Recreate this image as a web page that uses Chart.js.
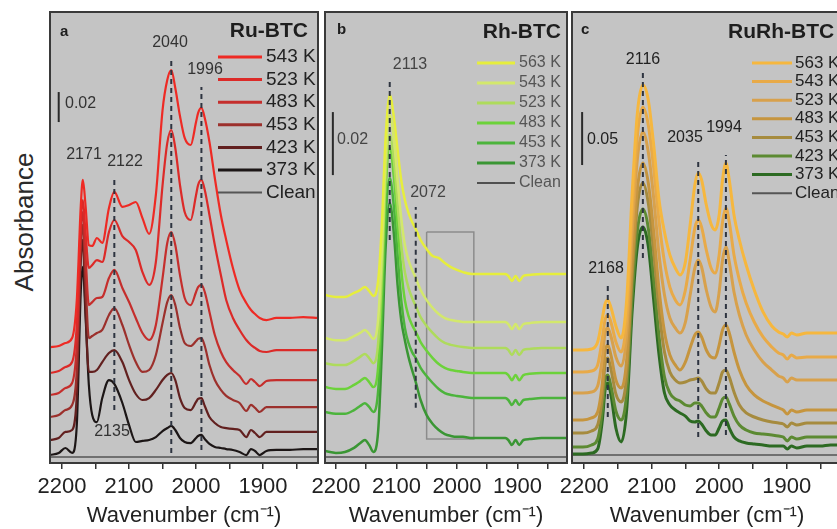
<!DOCTYPE html>
<html><head><meta charset="utf-8">
<script src="https://cdn.jsdelivr.net/npm/chart.js@4.4.1/dist/chart.umd.min.js"></script>
<style>
html,body{margin:0;padding:0;background:#fff;overflow:hidden;width:837px;height:529px;}
canvas{position:absolute;left:0;top:0;}
#ylab{position:absolute;left:24px;top:222px;transform:translate(-50%,-50%) rotate(-90deg);font:26px "Liberation Sans",Arial,sans-serif;color:#2a2a2a;white-space:nowrap;}
</style></head><body>
<div id="ylab">Absorbance</div>
<canvas id="ca" width="330" height="529"></canvas>
<canvas id="cb" width="580" height="529"></canvas>
<canvas id="cc" width="860" height="529"></canvas>
<script>
const FONT = '"Liberation Sans", Arial, sans-serif';
const tickValues = [2200, 2150, 2100, 2050, 2000, 1950, 1900, 1850];
const xMin = 1818, xMax = 2218;

// ---------- Panel a : Ru-BTC ----------
const wnA = [2218,2205,2195,2185,2178,2172,2169,2165,2160,2155,2148,2140,2130,2122,2110,2100,2090,2080,2070,2060,2050,2043,2037,2031,2024,2017,2008,2000,1997,1992,1987,1980,1972,1963,1955,1945,1935,1925,1918,1912,1905,1895,1880,1860,1840,1818];
const labelsA = ['543 K','523 K','483 K','453 K','423 K','373 K','Clean'];
const ru543 = [.0773,.0780,.0800,.0833,.1087,.1720,.1887,.1720,.1453,.1447,.1500,.1467,.1700,.1807,.1707,.1720,.1740,.1633,.1527,.1787,.2353,.2553,.2620,.2500,.2313,.2167,.2120,.2273,.2333,.2367,.2300,.2140,.1900,.1653,.1487,.1300,.1153,.1067,.1020,.0993,.0967,.0953,.0967,.0967,.0973,.0967];
const ru523 = [.0600,.0613,.0640,.0673,.0920,.1607,.1753,.1540,.1300,.1320,.1353,.1340,.1540,.1620,.1513,.1473,.1420,.1273,.1187,.1340,.1853,.2133,.2220,.2100,.1853,.1673,.1620,.1787,.1853,.1887,.1820,.1653,.1453,.1253,.1087,.0967,.0887,.0820,.0787,.0767,.0747,.0740,.0753,.0753,.0753,.0753];
const ru483 = [.0453,.0467,.0500,.0533,.0787,.1540,.1673,.1387,.1053,.1073,.1100,.1107,.1233,.1287,.1167,.1073,.0967,.0867,.0820,.0920,.1233,.1467,.1540,.1453,.1253,.1100,.1053,.1140,.1173,.1187,.1140,.1007,.0853,.0740,.0673,.0620,.0580,.0527,.0560,.0540,.0513,.0547,.0553,.0553,.0553,.0553];
const ru453 = [.0307,.0320,.0353,.0387,.0620,.1453,.1587,.1220,.0833,.0847,.0867,.0887,.0987,.1033,.0920,.0787,.0673,.0607,.0620,.0720,.0933,.1073,.1120,.1053,.0900,.0800,.0780,.0813,.0827,.0833,.0780,.0653,.0553,.0487,.0447,.0420,.0400,.0347,.0387,.0367,.0340,.0373,.0373,.0373,.0373,.0373];
const ru423 = [.0153,.0167,.0207,.0220,.0453,.1340,.1487,.1020,.0607,.0607,.0620,.0673,.0733,.0753,.0673,.0553,.0460,.0420,.0433,.0487,.0553,.0587,.0600,.0553,.0433,.0367,.0353,.0407,.0427,.0433,.0380,.0307,.0267,.0240,.0233,.0227,.0220,.0173,.0220,.0200,.0173,.0207,.0207,.0207,.0207,.0207];
const ru373 = [.0053,.0067,.0100,.0067,.0253,.1153,.1307,.0987,.0520,.0320,.0273,.0433,.0553,.0527,.0400,.0253,.0140,.0147,.0153,.0173,.0213,.0233,.0247,.0220,.0167,.0140,.0133,.0167,.0180,.0187,.0160,.0127,.0107,.0100,.0093,.0087,.0073,.0053,.0093,.0080,.0053,.0080,.0087,.0087,.0093,.0093];
const ruClean = [.0040,.0040,.0040,.0040,.0040,.0040,.0040,.0040,.0040,.0040,.0040,.0040,.0040,.0040,.0040,.0040,.0040,.0040,.0040,.0040,.0040,.0040,.0040,.0040,.0040,.0040,.0040,.0040,.0040,.0040,.0040,.0040,.0040,.0040,.0040,.0040,.0040,.0040,.0040,.0040,.0040,.0040,.0040,.0040,.0040,.0040];
const peaksA = [2122, 2037, 1992];
const peakSpanA = [[.0353,.1887],[.0067,.2687],[.0087,.2507]];
const scaleA = {wn: 2205, from: .2273, size: 0.02};

// ---------- Panel b : Rh-BTC ----------
const wnB = [2218,2200,2185,2170,2160,2152,2145,2138,2130,2124,2118,2111,2104,2098,2092,2086,2080,2074,2068,2060,2050,2040,2030,2020,2010,2000,1990,1975,1960,1945,1930,1920,1915,1909,1903,1897,1890,1880,1860,1840,1818];
const labelsB = ['563 K','543 K','523 K','483 K','453 K','373 K','Clean'];
const rh563 = [.0533,.0527,.0527,.0540,.0549,.0559,.0546,.0530,.0581,.0756,.1025,.1168,.1095,.0994,.0898,.0835,.0794,.0765,.0743,.0708,.0679,.0657,.0651,.0635,.0622,.0613,.0606,.0600,.0600,.0600,.0600,.0600,.0594,.0578,.0594,.0578,.0594,.0597,.0600,.0600,.0600];
const rh543 = [.0397,.0390,.0390,.0403,.0413,.0422,.0410,.0394,.0460,.0676,.0962,.1105,.1025,.0898,.0778,.0692,.0644,.0613,.0587,.0549,.0517,.0492,.0473,.0460,.0454,.0451,.0448,.0448,.0448,.0448,.0448,.0448,.0441,.0425,.0441,.0425,.0441,.0444,.0448,.0448,.0448];
const rh523 = [.0317,.0311,.0311,.0324,.0337,.0346,.0333,.0317,.0384,.0606,.0905,.1041,.0956,.0819,.0692,.0606,.0556,.0524,.0498,.0463,.0435,.0413,.0394,.0381,.0375,.0371,.0368,.0365,.0365,.0365,.0365,.0365,.0359,.0343,.0359,.0343,.0359,.0362,.0365,.0365,.0365];
const rh483 = [.0241,.0235,.0235,.0248,.0260,.0270,.0257,.0241,.0308,.0543,.0857,.1000,.0905,.0756,.0613,.0517,.0467,.0438,.0416,.0384,.0356,.0333,.0314,.0302,.0295,.0292,.0289,.0286,.0286,.0286,.0286,.0286,.0279,.0263,.0279,.0263,.0279,.0283,.0286,.0286,.0286];
const rh453 = [.0162,.0156,.0156,.0168,.0181,.0190,.0178,.0162,.0232,.0460,.0765,.0905,.0810,.0660,.0517,.0429,.0381,.0352,.0333,.0302,.0276,.0254,.0235,.0222,.0216,.0213,.0210,.0206,.0206,.0206,.0206,.0206,.0200,.0184,.0200,.0184,.0200,.0203,.0206,.0206,.0206];
const rh373 = [.0038,.0032,.0035,.0048,.0063,.0073,.0057,.0035,.0105,.0359,.0676,.0825,.0724,.0565,.0454,.0390,.0337,.0295,.0257,.0200,.0152,.0124,.0105,.0092,.0086,.0083,.0083,.0079,.0079,.0079,.0079,.0079,.0073,.0057,.0073,.0057,.0073,.0076,.0079,.0079,.0079];
const rhClean = [.0019,.0019,.0019,.0019,.0019,.0019,.0019,.0019,.0019,.0019,.0019,.0019,.0019,.0019,.0019,.0019,.0019,.0019,.0019,.0019,.0019,.0019,.0019,.0019,.0019,.0019,.0019,.0019,.0019,.0019,.0019,.0019,.0019,.0019,.0019,.0019,.0019,.0019,.0019,.0019,.0019];
const peaksB = [2111, 2068];
const peakSpanB = [[.0708,.1216],[.0175,.0813]];
const scaleB = {wn: 2205, from: .0914, size: 0.02};
const boxB = {wnFrom: 2050, wnTo: 1972, aLow: .0076, aHigh: .0733};

// ---------- Panel c : RuRh-BTC ----------
const wnC = [2218,2202,2189,2180,2173,2169,2165,2160,2153,2145,2137,2129,2121,2113,2105,2097,2089,2081,2073,2065,2058,2050,2043,2036,2031,2026,2019,2012,2006,2000,1995,1990,1985,1978,1970,1960,1948,1935,1922,1912,1905,1899,1893,1885,1870,1850,1835,1818];
const labelsC = ['563 K','543 K','523 K','483 K','453 K','423 K','373 K','Clean'];
const rr563 = [.1066,.1066,.1075,.1142,.1368,.1500,.1538,.1462,.1292,.1179,.1538,.2528,.3311,.3566,.3425,.3000,.2481,.2179,.1962,.1840,.1774,.1896,.2245,.2623,.2736,.2670,.2434,.2255,.2198,.2340,.2670,.2830,.2670,.2340,.2104,.1868,.1632,.1425,.1292,.1236,.1217,.1189,.1226,.1208,.1226,.1226,.1226,.1226];
const rr543 = [.0858,.0858,.0868,.0925,.1179,.1349,.1396,.1321,.1142,.1047,.1368,.2340,.3094,.3358,.3189,.2783,.2274,.1896,.1660,.1538,.1491,.1632,.1915,.2217,.2292,.2226,.2009,.1840,.1792,.1962,.2274,.2406,.2274,.1962,.1726,.1509,.1330,.1189,.1094,.1038,.1019,.0981,.1019,.0991,.1000,.1000,.1000,.1000];
const rr523 = [.0660,.0660,.0670,.0726,.0991,.1226,.1274,.1189,.1000,.0915,.1208,.2151,.2877,.3123,.2934,.2500,.1962,.1585,.1368,.1274,.1226,.1330,.1585,.1840,.1915,.1849,.1632,.1472,.1425,.1613,.1915,.2038,.1896,.1613,.1396,.1208,.1066,.0953,.0877,.0821,.0802,.0764,.0802,.0783,.0783,.0783,.0783,.0783];
const rr483 = [.0406,.0406,.0425,.0481,.0755,.1047,.1113,.1009,.0783,.0708,.0972,.1896,.2594,.2830,.2642,.2179,.1632,.1236,.1019,.0925,.0877,.0953,.1085,.1208,.1236,.1189,.1066,.1000,.0991,.1113,.1255,.1302,.1226,.1047,.0877,.0736,.0642,.0585,.0547,.0519,.0500,.0462,.0500,.0481,.0500,.0500,.0500,.0500];
const rr453 = [.0283,.0283,.0302,.0358,.0632,.0934,.0991,.0877,.0651,.0575,.0830,.1745,.2434,.2642,.2453,.1991,.1443,.1047,.0858,.0783,.0755,.0764,.0783,.0792,.0802,.0774,.0698,.0660,.0660,.0755,.0858,.0877,.0811,.0670,.0547,.0472,.0434,.0406,.0387,.0377,.0368,.0340,.0377,.0358,.0377,.0377,.0377,.0377];
const rr423 = [.0151,.0151,.0170,.0226,.0500,.0774,.0830,.0717,.0491,.0406,.0660,.1557,.2198,.2396,.2217,.1726,.1189,.0811,.0660,.0604,.0585,.0547,.0538,.0566,.0566,.0538,.0472,.0434,.0434,.0519,.0604,.0623,.0557,.0443,.0358,.0311,.0283,.0274,.0264,.0255,.0245,.0208,.0245,.0226,.0245,.0245,.0245,.0245];
const rr373 = [.0085,.0085,.0094,.0132,.0406,.0689,.0755,.0632,.0330,.0198,.0500,.1425,.2047,.2226,.2047,.1538,.1019,.0660,.0547,.0500,.0472,.0443,.0396,.0387,.0396,.0368,.0302,.0264,.0264,.0330,.0396,.0406,.0330,.0245,.0208,.0189,.0179,.0170,.0160,.0160,.0160,.0132,.0160,.0142,.0160,.0160,.0170,.0170];
const rrClean = [.0075,.0075,.0075,.0075,.0075,.0075,.0075,.0075,.0075,.0075,.0075,.0075,.0075,.0075,.0075,.0075,.0075,.0075,.0075,.0075,.0075,.0075,.0075,.0075,.0075,.0075,.0075,.0075,.0075,.0075,.0075,.0075,.0075,.0075,.0075,.0075,.0075,.0075,.0075,.0075,.0075,.0075,.0075,.0075,.0075,.0075,.0075,.0075];
const peaksC = [2165, 2113, 2031, 1990];
const peakSpanC = [[.0434,.1698],[.1934,.3679],[.0245,.2877],[.0264,.2906]];
const scaleC = {wn: 2203, from: .2811, size: 0.05};

// ---------- helpers ----------
function spectrum(xs, ys, label, color, w) {
  return {label, data: xs.map((x, i) => ({x, y: ys[i]})), borderColor: color, borderWidth: w,
    pointRadius: 0, cubicInterpolationMode: 'monotone', fill: false};
}
function segment(x0, y0, x1, y1, color, w, dash) {
  return {label: '', data: [{x: x0, y: y0}, {x: x1, y: y1}], borderColor: color, borderWidth: w,
    borderDash: dash || [], pointRadius: 0, tension: 0, fill: false, order: -1};
}
function dashes(peaks, spans) {
  return peaks.map((p, i) => segment(p, spans[i][0], p, spans[i][1], '#2e3440', 2, [5, 4]));
}
function scaleBar(s) { return segment(s.wn, s.from, s.wn, s.from + s.size, '#2a2a2a', 2); }

const decor = {
  id: 'decor',
  beforeDraw(chart, args, o) {
    const {ctx, chartArea: a} = chart;
    ctx.save(); ctx.fillStyle = '#c4c4c4';
    ctx.fillRect(a.left, a.top, a.right - a.left, a.bottom - a.top); ctx.restore();
  },
  afterDraw(chart, args, o) {
    const {ctx, chartArea: a} = chart;
    ctx.save();
    ctx.strokeStyle = '#3a3a3a'; ctx.lineWidth = 2;
    ctx.strokeRect(a.left, a.top, a.right - a.left, a.bottom - a.top);
    ctx.textBaseline = 'middle';
    ctx.fillStyle = '#1e1e1e'; ctx.textAlign = 'left';
    ctx.font = 'bold 15px ' + FONT; ctx.fillText(o.letter, o.letterX, o.letterY);
    ctx.font = 'bold 21px ' + FONT; ctx.textAlign = o.titleAlign; ctx.fillText(o.title, o.titleX, o.titleY);
    for (let i = 0; i < o.legendCount; i++) {
      const ds = chart.data.datasets[i]; const y = o.legY + i * o.legStep;
      ctx.strokeStyle = ds.borderColor; ctx.lineWidth = i === o.legendCount - 1 ? 2 : 3;
      ctx.beginPath(); ctx.moveTo(o.legX1, y); ctx.lineTo(o.legX2, y); ctx.stroke();
      ctx.fillStyle = o.legColor; ctx.font = o.legFont; ctx.textAlign = 'left';
      ctx.fillText(ds.label, o.legX2 + o.legGap, y);
    }
    ctx.font = o.noteFont; ctx.fillStyle = o.noteColor;
    o.notes.forEach(n => { ctx.textAlign = n.a || 'center'; ctx.fillText(n.t, n.x, n.y); });
    ctx.restore();
  }
};

function makeChart(id, left, right, yMax, datasets, decorOpts) {
  const el = document.getElementById(id);
  return new Chart(el, {
    type: 'line',
    data: {datasets},
    options: {
      responsive: false, animation: false, devicePixelRatio: 1,
      layout: {padding: {left: left, right: el.width - right, top: 12, bottom: 0}},
      plugins: {legend: {display: false}, tooltip: {enabled: false}, decor: decorOpts},
      scales: {
        x: {
          type: 'linear', reverse: true, min: xMin, max: xMax,
          afterBuildTicks: s => { s.ticks = tickValues.map(v => ({value: v})); },
          afterFit: s => { s.height = 66; },
          ticks: {autoSkip: false, maxRotation: 0, minRotation: 0, padding: 5, color: '#222',
            font: {size: 22, family: FONT}, callback: v => (v % 100 === 0 ? String(v) : '')},
          grid: {drawOnChartArea: false, drawTicks: true, tickLength: 6, color: '#333', lineWidth: 1.5},
          border: {display: false},
          title: {display: true, text: 'Wavenumber (cm\u207B\u00B9)', color: '#222',
            font: {size: 22, family: FONT}, padding: {top: 0, bottom: 0}}
        },
        y: {display: false, min: 0, max: yMax}
      }
    },
    plugins: [decor]
  });
}

// ---------- build panel a ----------
const colA = ['#ee2a24', '#dc2a28', '#c52e2c', '#9c302c', '#62201f', '#1c1616', '#555555'];
const serA = [ru543, ru523, ru483, ru453, ru423, ru373, ruClean];
const dsA = serA.map((s, i) => spectrum(wnA, s, labelsA[i], colA[i], i === 6 ? 1.5 : 2.2))
  .concat(dashes(peaksA, peakSpanA), [scaleBar(scaleA)]);
makeChart('ca', 50, 318, 0.30067, dsA, {
  letter: 'a', letterX: 60, letterY: 32, title: 'Ru-BTC', titleX: 308, titleY: 31, titleAlign: 'right',
  legendCount: 7, legY: 57, legStep: 22.6, legX1: 218, legX2: 262, legGap: 4,
  legFont: '19px ' + FONT, legColor: '#222',
  noteFont: '16px ' + FONT, noteColor: '#333',
  notes: [{t: '2171', x: 84, y: 155}, {t: '2122', x: 125, y: 162}, {t: '2040', x: 170, y: 43},
          {t: '1996', x: 205, y: 70}, {t: '2135', x: 112, y: 432}, {t: '0.02', x: 65, y: 104, a: 'left'}]
});

// ---------- build panel b ----------
const colB = ['#e6ee3c', '#d3e86c', '#aedb5c', '#6cd23a', '#4cb43c', '#3a9634', '#505050'];
const serB = [rh563, rh543, rh523, rh483, rh453, rh373, rhClean];
const dsB = serB.map((s, i) => spectrum(wnB, s, labelsB[i], colB[i], i === 6 ? 1.5 : 2.5))
  .concat(dashes(peaksB, peakSpanB), [scaleBar(scaleB),
    {label: '', data: [{x: boxB.wnFrom, y: boxB.aHigh}, {x: boxB.wnTo, y: boxB.aHigh}, {x: boxB.wnTo, y: boxB.aLow},
      {x: boxB.wnFrom, y: boxB.aLow}, {x: boxB.wnFrom, y: boxB.aHigh}],
     borderColor: '#8c8c8c', borderWidth: 1.5, pointRadius: 0, tension: 0, fill: false, order: 5}]);
makeChart('cb', 325, 567, 0.14317, dsB, {
  letter: 'b', letterX: 337, letterY: 30, title: 'Rh-BTC', titleX: 561, titleY: 32, titleAlign: 'right',
  legendCount: 7, legY: 63, legStep: 20, legX1: 477, legX2: 515, legGap: 4,
  legFont: '16px ' + FONT, legColor: '#555',
  noteFont: '16px ' + FONT, noteColor: '#444',
  notes: [{t: '2113', x: 410, y: 65}, {t: '2072', x: 428, y: 193}, {t: '0.02', x: 337, y: 140, a: 'left'}]
});

// ---------- build panel c ----------
const colC = ['#f6b73e', '#e8aa48', '#d8a14c', '#c6953e', '#a68b3e', '#5c8a32', '#2c6a22', '#555555'];
const serC = [rr563, rr543, rr523, rr483, rr453, rr423, rr373, rrClean];
const dsC = serC.map((s, i) => spectrum(wnC, s, labelsC[i], colC[i], i === 7 ? 1.5 : 3))
  .concat(dashes(peaksC, peakSpanC), [scaleBar(scaleC)]);
makeChart('cc', 572, 842, 0.42547, dsC, {
  letter: 'c', letterX: 581, letterY: 30, title: 'RuRh-BTC', titleX: 728, titleY: 32, titleAlign: 'left',
  legendCount: 8, legY: 63, legStep: 18.6, legX1: 752, legX2: 792, legGap: 3,
  legFont: '17px ' + FONT, legColor: '#222',
  noteFont: '16px ' + FONT, noteColor: '#222',
  notes: [{t: '2116', x: 643, y: 60}, {t: '2035', x: 685, y: 138}, {t: '1994', x: 724, y: 128},
          {t: '2168', x: 606, y: 269}, {t: '0.05', x: 587, y: 140, a: 'left'}]
});
</script>
</body></html>
